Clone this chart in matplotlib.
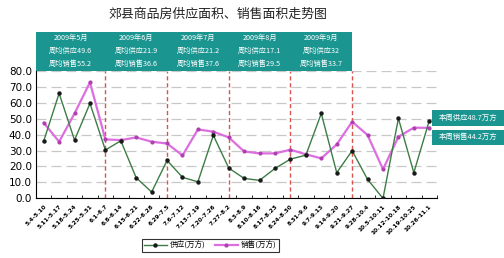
import matplotlib
matplotlib.use('Agg')
import matplotlib.pyplot as plt
import matplotlib.transforms as mtrans
from matplotlib.patches import Rectangle
import numpy as np

plt.rcParams['font.family'] = ['Noto Sans CJK SC', 'DejaVu Sans']

weeks = ['5.4-5.10', '5.11-5.17', '5.18-5.24', '5.25-5.31', '6.1-6.7', '6.8-6.14',
         '6.15-6.21', '6.22-6.28', '6.29-7.5', '7.6-7.12', '7.13-7.19', '7.20-7.26',
         '7.27-8.2', '8.3-8.9', '8.10-8.16', '8.17-8.23', '8.24-8.30', '8.31-9.6',
         '9.7-9.13', '9.14-9.20', '9.21-9.27', '9.28-10.4', '10.5-10.11',
         '10.12-10.18', '10.19-10.25', '10.26-11.1']
supply = [35.9, 65.8, 36.5, 59.5, 30.3, 36.1, 12.9, 4.0, 23.8, 13.2, 10.4, 39.5, 19.0,
          12.5, 11.3, 18.8, 24.6, 27.1, 53.2, 16.1, 29.9, 11.9, 0.0, 50.1, 16.1, 48.7]
sales = [47.4, 35.5, 53.2, 72.7, 37.0, 36.5, 38.2, 35.5, 34.4, 26.9, 43.2, 41.8, 38.2,
         29.4, 28.2, 28.2, 30.5, 27.6, 25.1, 33.8, 48.0, 39.7, 18.2, 38.6, 44.3, 44.2]

month_edges = [-0.5, 4, 8, 12, 16, 20]
month_titles = ['2009年5月', '2009年6月', '2009年7月', '2009年8月', '2009年9月']
month_supply = ['49.6', '21.9', '21.2', '17.1', '32']
month_sales = ['55.2', '36.6', '37.6', '29.5', '33.7']

teal = '#1b9590'

fig = plt.figure(figsize=(5.04, 2.58), dpi=100)
ax = fig.add_axes([0.0714, 0.231, 0.7956, 0.495])

x = np.arange(len(weeks))
ax.plot(x, supply, color='#3d7d45', lw=1.0, marker='o', ms=2.2,
        mfc='#1a1a1a', mec='#1a1a1a', label='供应(万方)', zorder=4)
ax.plot(x, sales, color='#dd6ee0', lw=1.6, marker='o', ms=2.0,
        mfc='#b040b0', mec='#b040b0', label='销售(万方)', zorder=3)

ax.set_xlim(-0.5, len(weeks) - 0.5)
ax.set_ylim(0, 80)
ax.set_yticks(np.arange(0, 81, 10))
ax.set_yticklabels([f'{v:.1f}' for v in range(0, 81, 10)], fontsize=7.5,
                   family='DejaVu Sans')
ax.tick_params(axis='y', length=0, pad=3)
ax.grid(axis='y', color='#c8c8c8', ls=(0, (8, 4)), lw=0.9)
ax.set_axisbelow(True)

ax.set_xticks(x)
ax.set_xticklabels(weeks, rotation=45, ha='right', rotation_mode='anchor',
                   fontsize=4.2, fontweight='bold', family='DejaVu Sans')
ax.tick_params(axis='x', length=0, pad=4)
ax.set_xticks(np.arange(-0.5, len(weeks), 1), minor=True)
ax.tick_params(axis='x', which='minor', length=2.5, direction='in', width=0.6)

for s in ['top', 'right']:
    ax.spines[s].set_visible(False)
ax.spines['left'].set_linewidth(0.8)
ax.spines['bottom'].set_linewidth(0.8)

for e in month_edges[1:]:
    ax.axvline(e, color='#d9534f', ls=(0, (3, 2)), lw=1.0, zorder=2)

# month header boxes above the plot
trans = mtrans.blended_transform_factory(ax.transData, ax.transAxes)
for i, t in enumerate(month_titles):
    x0 = month_edges[i]
    x1 = month_edges[i + 1]
    ax.add_patch(Rectangle((x0, 1.0), x1 - x0, 0.305, transform=trans,
                           facecolor=teal, edgecolor='none', clip_on=False))
    xc = (x0 + x1) / 2
    ax.text(xc, 1.255, t, transform=trans, ha='center', va='center',
            fontsize=5.2, color='white')
    ax.text(xc, 1.155, '周均供应' + month_supply[i], transform=trans, ha='center',
            va='center', fontsize=5.2, color='white')
    ax.text(xc, 1.055, '周均销售' + month_sales[i], transform=trans, ha='center',
            va='center', fontsize=5.2, color='white')

fig.text(0.433, 0.945, '郊县商品房供应面积、销售面积走势图', ha='center', va='center',
         fontsize=9.3, color='#222222')

for yy, txt in [(0.543, '本周供应48.7万方'), (0.468, '本周销售44.2万方')]:
    fig.patches.append(Rectangle((0.857, yy - 0.03), 0.143, 0.06,
                                 transform=fig.transFigure, facecolor=teal,
                                 edgecolor='none'))
    fig.text(0.928, yy, txt, ha='center', va='center', fontsize=5.3, color='white')

leg = fig.legend(loc='center', bbox_to_anchor=(0.417, 0.047), ncol=2, fontsize=5.5,
                 frameon=True, fancybox=False, edgecolor='black', handlelength=3,
                 borderpad=0.3, columnspacing=1.2, handletextpad=0.4)
leg.get_frame().set_linewidth(0.8)

fig.savefig('out.png', dpi=100)
